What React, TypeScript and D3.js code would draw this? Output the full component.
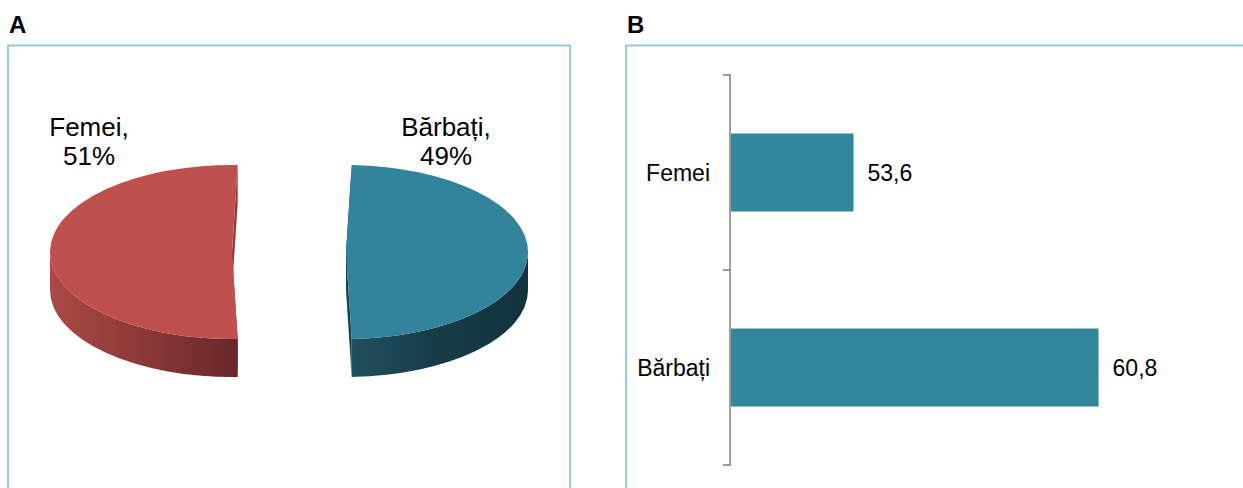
import React from 'react'
import * as d3 from 'd3'

// pie (panel A)
const pieLabels = ['Bărbați', 'Femei']
const pieValues = [49, 51]
const pieTop = ['#31849B', '#C0504D']
const pieCut = ['#17414E', '#8E3B39']
const pieWall = [
  ['#21505E', '#163B47', '#12323D'],
  ['#AA4946', '#8B3937', '#692629'],
]

// bars (panel B)
const barCats = ['Femei', 'Bărbați']
const barValues = [53.6, 60.8]
const barColor = '#31859C'

const W = 1243
const H = 488
const FONT = 'Liberation Sans, Arial, Helvetica, sans-serif'
const BORDER = '#93CDDD'

// 3d pie geometry
const CX = 289, CY = 252
const RX = 182, RY = 87, DEPTH = 38, EXPLODE = 57

export default function App() {
  const ref = React.useRef<SVGSVGElement>(null)

  React.useEffect(() => {
    document.body.style.margin = '0'
    const svg = d3.select(ref.current!)
    svg.selectAll('*').remove()
    svg.append('rect').attr('width', W).attr('height', H).attr('fill', '#fff')
    const defs = svg.append('defs')

    // panel frames + letters
    svg.append('rect').attr('x', 8).attr('y', 45.5).attr('width', 562).attr('height', 520)
      .attr('fill', 'none').attr('stroke', BORDER).attr('stroke-width', 2)
    svg.append('rect').attr('x', 626).attr('y', 45.5).attr('width', 700).attr('height', 520)
      .attr('fill', 'none').attr('stroke', BORDER).attr('stroke-width', 2)
    svg.append('text').attr('x', 9).attr('y', 33).attr('font-family', FONT).attr('font-weight', 700)
      .attr('font-size', 24).attr('fill', '#000').text('A')
    svg.append('text').attr('x', 627).attr('y', 33).attr('font-family', FONT).attr('font-weight', 700)
      .attr('font-size', 24).attr('fill', '#000').text('B')

    // ---- A: exploded 3d pie ----
    const off = (Math.PI * 2 * (pieValues[1] - pieValues[0]) / (pieValues[0] + pieValues[1])) / 4
    const arcs = d3.pie<number>().sort(null)
      .startAngle(off).endAngle(Math.PI * 2 + off)(pieValues)

    const gPie = svg.append('g')
    arcs.forEach((a, i) => {
      const mid = (a.startAngle + a.endAngle) / 2
      const cx = CX + EXPLODE * Math.sin(mid)
      const cy = CY
      const p = (ang: number, dy = 0): [number, number] => [cx + RX * Math.sin(ang), cy - RY * Math.cos(ang) + dy]
      const g = gPie.append('g')

      // radial cut faces
      for (const ang of [a.startAngle, a.endAngle]) {
        const q = d3.path()
        const [x1, y1] = p(ang)
        q.moveTo(cx, cy); q.lineTo(x1, y1); q.lineTo(x1, y1 + DEPTH); q.lineTo(cx, cy + DEPTH); q.closePath()
        g.append('path').attr('d', q.toString()).attr('fill', pieCut[i])
      }

      // outer wall, only the front half shows
      const s = Math.max(a.startAngle, Math.PI / 2)
      const e = Math.min(a.endAngle, Math.PI * 1.5)
      if (e > s) {
        const [sx, sy] = p(s), [ex, ey] = p(e)
        const gid = `wall${i}`
        const grad = defs.append('linearGradient').attr('id', gid)
          .attr('gradientUnits', 'userSpaceOnUse')
          .attr('x1', Math.min(sx, ex)).attr('x2', Math.max(sx, ex))
          .attr('y1', 0).attr('y2', 0)
        pieWall[i].forEach((c, k) => grad.append('stop').attr('offset', k / (pieWall[i].length - 1)).attr('stop-color', c))
        const large = e - s > Math.PI ? 1 : 0
        const dWall = `M${sx},${sy} A${RX},${RY} 0 ${large} 1 ${ex},${ey} L${ex},${ey + DEPTH} A${RX},${RY} 0 ${large} 0 ${sx},${sy + DEPTH} Z`
        g.append('path').attr('d', dWall).attr('fill', `url(#${gid})`)
      }

      // top face
      const [ax, ay] = p(a.startAngle), [bx, by] = p(a.endAngle)
      const large = a.endAngle - a.startAngle > Math.PI ? 1 : 0
      g.append('path')
        .attr('d', `M${cx},${cy} L${ax},${ay} A${RX},${RY} 0 ${large} 1 ${bx},${by} Z`)
        .attr('fill', pieTop[i])
    })

    // pie labels
    const pieLabelPos = [[446, 136], [89, 136]]
    pieLabels.forEach((lab, i) => {
      const t = svg.append('text').attr('font-family', FONT).attr('font-size', 26).attr('fill', '#000')
        .attr('text-anchor', 'middle')
      t.append('tspan').attr('x', pieLabelPos[i][0]).attr('y', pieLabelPos[i][1]).text(`${lab},`)
      t.append('tspan').attr('x', pieLabelPos[i][0]).attr('y', pieLabelPos[i][1] + 29).text(`${pieValues[i]}%`)
    })

    // ---- B: horizontal bars ----
    const x = d3.scaleLinear().domain([50, 62]).range([731, 1139.4])
    const y = d3.scaleBand<string>().domain(barCats).range([75, 465]).paddingInner(0.6).paddingOuter(0.3)
    const gB = svg.append('g')

    gB.selectAll('rect.bar').data(barCats).enter().append('rect')
      .attr('class', 'bar')
      .attr('x', x(50)).attr('y', d => y(d)!)
      .attr('width', (_, i) => x(barValues[i]) - x(50))
      .attr('height', y.bandwidth())
      .attr('fill', barColor)

    const axis = d3.axisLeft(y).tickSize(0).tickPadding(20)
    const ga = gB.append('g').attr('transform', `translate(${x(50) - 1},0)`).call(axis)
    ga.select('.domain').remove()
    ga.selectAll('text').attr('font-family', FONT).attr('font-size', 23).attr('fill', '#000')
      .attr('dy', '0.35em')

    // axis line with category boundary ticks
    const ax0 = x(50) - 1
    const bounds = [75, 75 + y.step(), 465]
    gB.append('line').attr('x1', ax0).attr('x2', ax0).attr('y1', 75).attr('y2', 465)
      .attr('stroke', '#868686').attr('stroke-width', 1.6)
    gB.selectAll('line.tk').data(bounds).enter().append('line').attr('class', 'tk')
      .attr('x1', ax0 - 7).attr('x2', ax0 + 0.8).attr('y1', d => d).attr('y2', d => d)
      .attr('stroke', '#868686').attr('stroke-width', 1.6)

    gB.selectAll('text.val').data(barCats).enter().append('text')
      .attr('class', 'val')
      .attr('x', (_, i) => x(barValues[i]) + 14)
      .attr('y', d => y(d)! + y.bandwidth() / 2)
      .attr('dy', '0.35em')
      .attr('font-family', FONT).attr('font-size', 23).attr('fill', '#000')
      .text((_, i) => String(barValues[i]).replace('.', ','))
  }, [])

  return <svg ref={ref} width={W} height={H} style={{ display: 'block' }} />
}
